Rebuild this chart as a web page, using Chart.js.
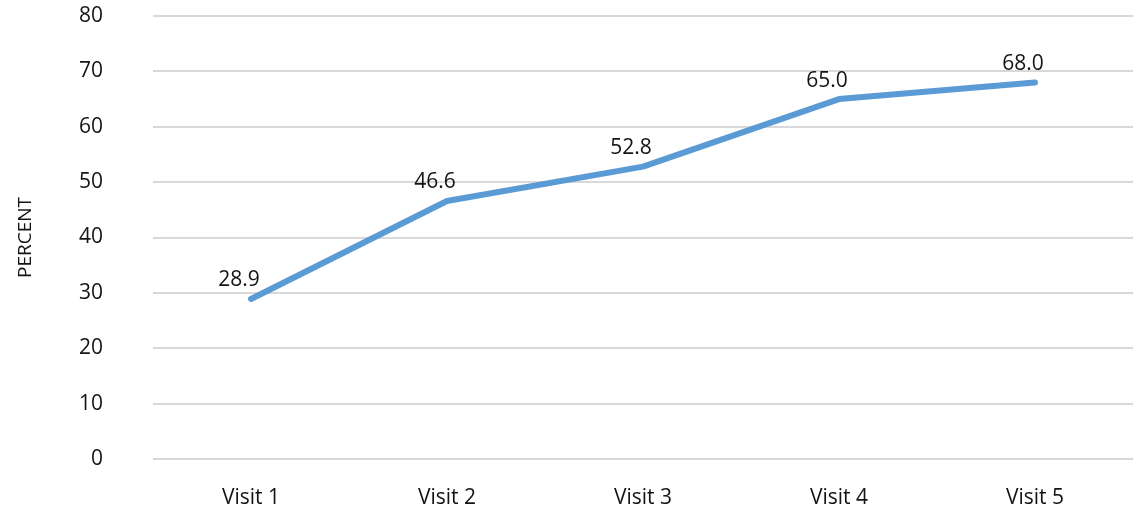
<!DOCTYPE html>
<html lang="en">
<head>
    <meta charset="UTF-8">
    <title>Percent by visit</title>
    <script src="https://cdn.jsdelivr.net/npm/chart.js"></script>
    <style>
        html, body { margin: 0; padding: 0; background: #fff; }
    </style>
</head>
<body>
    <canvas id="visitChart" width="1139" height="508"></canvas>
    <script>
        // chart data
        const visits = ['Visit 1', 'Visit 2', 'Visit 3', 'Visit 4', 'Visit 5'];
        const percentValues = [28.9, 46.6, 52.8, 65.0, 68.0];
        const yTicks = [0, 10, 20, 30, 40, 50, 60, 70, 80];

        const textColor = '#141414';
        const fontFamily = '"Open Sans", "Noto Sans", sans-serif';

        // value labels above each point
        const pointLabels = {
            id: 'pointLabels',
            afterDatasetsDraw(chart) {
                const ctx = chart.ctx;
                const meta = chart.getDatasetMeta(0);
                ctx.save();
                ctx.font = '21px ' + fontFamily;
                ctx.fillStyle = textColor;
                ctx.textAlign = 'center';
                ctx.textBaseline = 'bottom';
                meta.data.forEach((pt, i) => {
                    ctx.fillText(percentValues[i].toFixed(1), pt.x - 12, pt.y - 8);
                });
                ctx.restore();
            }
        };

        new Chart(document.getElementById('visitChart'), {
            type: 'line',
            data: {
                labels: visits,
                datasets: [{
                    data: percentValues,
                    borderColor: '#5b9bd5',
                    borderWidth: 6,
                    borderCapStyle: 'round',
                    borderJoinStyle: 'round',
                    pointRadius: 0,
                    tension: 0,
                    fill: false
                }]
            },
            options: {
                responsive: false,
                animation: false,
                layout: { padding: { top: 16, right: 6, left: 0, bottom: 0 } },
                plugins: {
                    legend: { display: false },
                    tooltip: { enabled: false }
                },
                scales: {
                    x: {
                        offset: true,
                        grid: { display: false },
                        border: { display: false },
                        ticks: {
                            color: textColor,
                            font: { family: fontFamily, size: 21 },
                            padding: 18,
                            maxRotation: 0
                        },
                        afterFit(scale) { scale.height = 49; }
                    },
                    y: {
                        min: 0,
                        max: 80,
                        afterBuildTicks(scale) {
                            scale.ticks = yTicks.map(v => ({ value: v }));
                        },
                        // invisible tick marks push the labels away from the grid
                        grid: { color: '#d9d9d9', lineWidth: 2, drawTicks: true, tickLength: 50, tickColor: 'rgba(0,0,0,0)' },
                        border: { display: false },
                        ticks: {
                            color: textColor,
                            font: { family: fontFamily, size: 21 },
                            padding: 0
                        },
                        title: {
                            display: true,
                            text: 'PERCENT',
                            color: textColor,
                            font: { family: fontFamily, size: 19 },
                            padding: { top: 14, bottom: 0 }
                        },
                        afterFit(scale) { scale.width = 153; }
                    }
                }
            },
            plugins: [pointLabels]
        });
    </script>
</body>
</html>
